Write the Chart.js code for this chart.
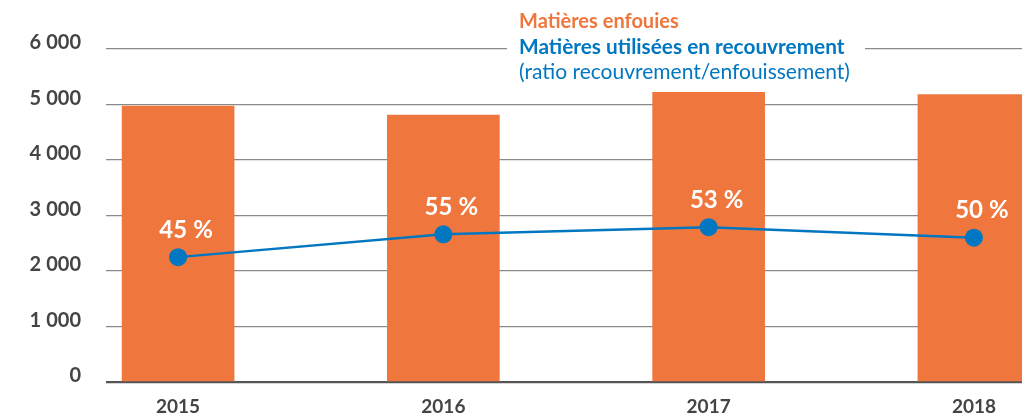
<!DOCTYPE html>
<html><head><meta charset="utf-8">
<script src="https://cdn.jsdelivr.net/npm/chart.js@4/dist/chart.umd.min.js"></script>
<style>html,body{margin:0;padding:0;background:#fff;overflow:hidden;width:1022px;height:419px}canvas{display:block}</style>
</head><body>
<canvas id="c" width="1032" height="419"></canvas>
<script>
const years = ['2015', '2016', '2017', '2018'];
const enfouies = [4970, 4810, 5220, 5180];
const recouvrement = [2250, 2660, 2790, 2600];
const ratios = [45, 55, 53, 50];
const yTicks = [0, 1000, 2000, 3000, 4000, 5000, 6000];
const legendTitles = ['Matières enfouies', 'Matières utilisées en recouvrement', '(ratio recouvrement/enfouissement)'];

const ORANGE = '#EF763D', BLUE = '#0077C0', GREY = '#444444';
const FONT = 'Lato, "Open Sans", sans-serif';

const fmt = v => String(v).replace(/\B(?=(\d{3})+(?!\d))/g, '\u202F');

const overlay = {
  id: 'overlay',
  afterDatasetsDraw(chart) {
    const ctx = chart.ctx;
    const meta = chart.getDatasetMeta(1);
    ctx.save();
    ctx.fillStyle = '#fff';
    ctx.font = 'bold 24px ' + FONT;
    ctx.textAlign = 'center';
    ctx.textBaseline = 'middle';
    meta.data.forEach((pt, i) => {
      ctx.fillText(ratios[i] + '\u202F%', pt.x + 8, pt.y - 27);
    });
    ctx.restore();
  },
  afterDraw(chart) {
    const ctx = chart.ctx;
    ctx.save();
    ctx.fillStyle = '#fff';
    ctx.fillRect(507, 0, 358, 86);
    ctx.textAlign = 'left';
    ctx.textBaseline = 'middle';
    ctx.fillStyle = ORANGE;
    ctx.font = 'bold 20px ' + FONT;
    ctx.fillText(legendTitles[0], 519, 22);
    ctx.fillStyle = BLUE;
    ctx.font = 'bold 20.8px ' + FONT;
    ctx.fillText(legendTitles[1], 519, 47);
    ctx.font = '21px ' + FONT;
    ctx.fillText(legendTitles[2], 519, 72);
    ctx.restore();
  }
};

new Chart(document.getElementById('c'), {
  data: {
    datasets: [
      {
        type: 'bar',
        label: legendTitles[0],
        data: enfouies.map((v, i) => ({x: i, y: v})),
        backgroundColor: ORANGE,
        barThickness: 112,
        order: 1
      },
      {
        type: 'line',
        label: legendTitles[1],
        data: recouvrement.map((v, i) => ({x: i, y: v})),
        borderColor: BLUE,
        backgroundColor: BLUE,
        borderWidth: 2.5,
        pointRadius: 9,
        pointBorderWidth: 0,
        pointBackgroundColor: BLUE,
        tension: 0,
        order: 0
      }
    ]
  },
  options: {
    responsive: false,
    animation: false,
    layout: {padding: {top: 49, left: 0, right: 0, bottom: 0}},
    plugins: {legend: {display: false}, tooltip: {enabled: false}},
    scales: {
      x: {
        type: 'linear',
        offset: false,
        min: -0.2717,
        max: 3.185,
        afterBuildTicks: s => { s.ticks = years.map((_, i) => ({value: i})); },
        afterFit: s => { s.height = 35; },
        grid: {display: false, drawTicks: false, offset: false},
        border: {display: false},
        ticks: {
          callback: v => years[v] ?? '',
          color: GREY,
          font: {family: FONT, size: 19, weight: 'bold'},
          padding: 13,
          maxRotation: 0
        }
      },
      y: {
        min: 0,
        max: 6000,
        afterBuildTicks: s => { s.ticks = yTicks.map(v => ({value: v})); },
        afterFit: s => { s.width = 106; },
        border: {display: false},
        grid: {
          drawTicks: false,
          color: c => c.tick && c.tick.value === 0 ? '#555' : '#8a8a8a',
          lineWidth: c => c.tick && c.tick.value === 0 ? 2.2 : 1.3
        },
        ticks: {
          callback: v => fmt(v),
          color: GREY,
          font: {family: FONT, size: 20, weight: 'bold'},
          padding: 25,
          labelOffset: -6
        }
      }
    }
  },
  plugins: [overlay]
});
</script>
</body></html>
